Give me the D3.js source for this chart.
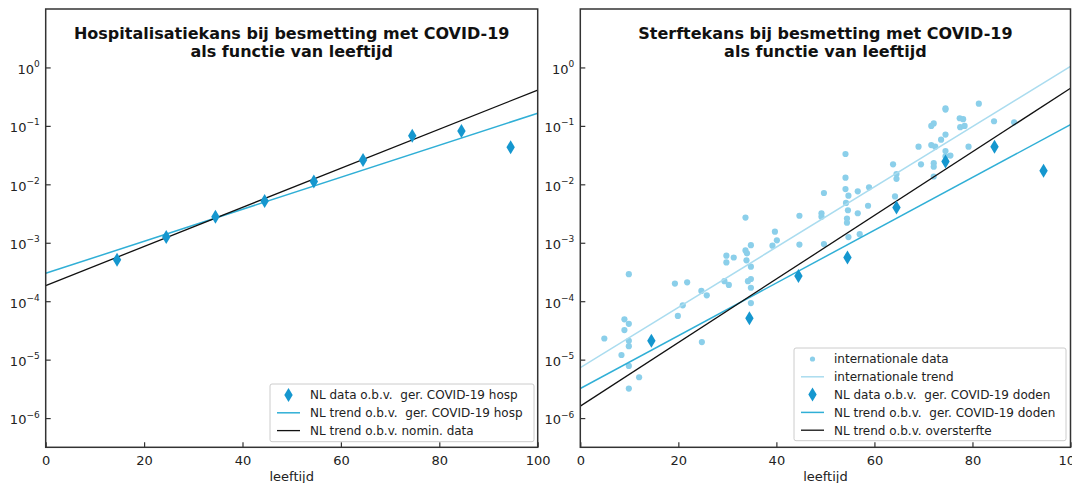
<!DOCTYPE html>
<html>
<head>
<meta charset="utf-8">
<script src="https://cdn.jsdelivr.net/npm/d3@7"></script>
<style>
  body { margin: 0; background: #fff; }
  svg { display: block; font-family: "DejaVu Sans", sans-serif; }
</style>
</head>
<body>
<svg id="chart" width="1072" height="483"></svg>
<script>
// leeftijdsgroepen (midden van de klasse)
var hospAges = [14.5, 24.5, 34.5, 44.5, 54.5, 64.5, 74.5, 84.5, 94.5];
var hospData = [5.1e-4, 1.25e-3, 2.8e-3, 5.2e-3, 1.12e-2, 2.6e-2, 6.8e-2, 8.2e-2, 4.3e-2];

var trendAges = [0, 100];
var hospTrendNL = [3.0e-4, 0.165];
var hospTrendNomin = [1.85e-4, 0.41];

var deathAges = [14.5, 34.5, 44.5, 54.5, 64.5, 74.5, 84.5, 94.5];
var deathData = [2.1e-5, 5.1e-5, 2.7e-4, 5.6e-4, 4.0e-3, 2.45e-2, 4.4e-2, 1.7e-2];
var deathTrendNL = [3.2e-6, 0.105];
var deathTrendOver = [1.6e-6, 0.44];
var intlTrend = [7.3e-6, 1.04];

// internationale data (leeftijd, sterftekans)
var intlAges = [4.9, 8.4, 9.0, 9.0, 9.9, 9.9, 9.9, 9.9, 9.9, 9.9, 12.0,
  19.3, 19.9, 20.9, 21.8, 24.7, 24.8, 25.8, 29.4, 29.8, 29.8, 30.3, 31.3,
  33.7, 33.7, 33.9, 34.0, 34.2, 34.8, 34.8, 34.8, 34.8, 34.8,
  39.2, 39.7, 40.1, 44.7, 44.7, 49.2, 49.2, 49.7, 49.7,
  54.1, 54.1, 54.1, 54.2, 54.4, 54.4, 54.6, 54.7, 54.7, 56.6, 56.6, 57.0, 58.7, 58.9,
  63.8, 64.2, 64.5, 64.5, 69.0, 69.5, 71.6, 72.1, 71.6, 72.4, 72.1, 72.1, 72.1, 73.6,
  74.5, 74.5, 74.5, 74.5, 74.5, 75.5, 77.4, 78.1, 77.5, 78.4, 79.2, 81.3, 84.4, 88.5];
var intlData = [2.3e-5, 1.2e-5, 4.9e-5, 3.2e-5, 2.9e-4, 4.1e-5, 2.1e-5, 1.7e-5, 7.8e-6, 3.2e-6, 5e-6,
  2.0e-4, 5.6e-5, 8.5e-5, 2.1e-4, 1.5e-4, 2.0e-5, 1.26e-4, 2.2e-4, 6.0e-4, 4.6e-4, 1.9e-4, 5.6e-4,
  2.7e-3, 7.4e-4, 5e-4, 6.6e-4, 2.2e-4, 9.1e-4, 3.9e-4, 2.4e-4, 1.7e-4, 9.3e-5,
  8.9e-4, 1.55e-3, 1.1e-3, 2.9e-3, 9.3e-4, 3.2e-3, 2.8e-3, 7.1e-3, 9.5e-4,
  3.3e-2, 1.3e-2, 8.3e-3, 4.8e-3, 2.6e-3, 2.2e-3, 3.6e-3, 6.4e-3, 1.25e-3, 7.6e-3, 3.2e-3, 1.4e-3, 4.3e-3, 8.9e-3,
  2.2e-2, 6.2e-3, 1.24e-2, 1.5e-2, 4.4e-2, 2.2e-2, 0.10, 0.11, 4.7e-2, 4.4e-2, 2.3e-2, 2.0e-2, 1.36e-2, 5.8e-2,
  0.19, 0.20, 7.1e-2, 3.7e-2, 3.0e-2, 3.1e-2, 0.135, 0.13, 0.095, 0.10, 4.4e-2, 0.24, 0.12, 0.115];

var xTicks = [0, 20, 40, 60, 80, 100];
var yTicks = [1e-6, 1e-5, 1e-4, 1e-3, 1e-2, 1e-1, 1e0];
var yTickExp = ["\u22126", "\u22125", "\u22124", "\u22123", "\u22122", "\u22121", "0"];

var cDiamond = "#1597cf", cNLTrend = "#30afd6", cIntlDot = "#8bcfea", cIntlTrend = "#aadcef";

var svg = d3.select("#chart");
var plotTop = 9, plotBottom = 447.3;

function diamond(){
    return "M0,-7L4.2,0L0,7L-4.2,0Z";
}

function drawPanel(left, right, title, series, legendItems, legendBox){
    var x = d3.scaleLinear().domain([0, 100]).range([left, right]);
    var y = d3.scaleLog().domain([Math.pow(10, -6.5), 10]).range([plotBottom, plotTop]);
    var g = svg.append("g");

    var line = d3.line()
        .x(function(d){ return x(d[0]); })
        .y(function(d){ return y(d[1]); });

    g.append("clipPath").attr("id", "clip" + Math.round(left))
        .append("rect").attr("x", left).attr("y", plotTop).attr("width", right - left).attr("height", plotBottom - plotTop);
    var plot = g.append("g").attr("clip-path", "url(#clip" + Math.round(left) + ")");

    series.forEach(function(s){
        if(s.type == "dots"){
            plot.selectAll(null).data(d3.zip(s.ages, s.values)).enter()
                .append("circle")
                .attr("cx", function(d){ return x(d[0]); })
                .attr("cy", function(d){ return y(d[1]); })
                .attr("r", 3.1)
                .attr("fill", s.color);
        }
        else if(s.type == "line"){
            plot.append("path").datum(d3.zip(s.ages, s.values))
                .attr("d", line)
                .attr("fill", "none")
                .attr("stroke", s.color)
                .attr("stroke-width", s.width || 1.5);
        }
        else{
            plot.selectAll(null).data(d3.zip(s.ages, s.values)).enter()
                .append("path")
                .attr("d", diamond())
                .attr("transform", function(d){ return "translate(" + x(d[0]) + "," + y(d[1]) + ")"; })
                .attr("fill", s.color);
        }
    });

    // assen
    var xAxis = d3.axisBottom(x).tickValues(xTicks).tickSize(-5).tickPadding(8);
    var gx = g.append("g").attr("transform", "translate(0," + plotBottom + ")").call(xAxis);
    var yAxis = d3.axisLeft(y).tickValues(yTicks).tickSize(-5).tickPadding(6).tickFormat("");
    var gy = g.append("g").attr("transform", "translate(" + left + ",0)").call(yAxis);
    g.selectAll(".domain").remove();
    g.selectAll(".tick line").attr("stroke", "#333").attr("stroke-width", 1.2);
    gx.selectAll(".tick text").attr("font-size", 13).attr("fill", "#222").attr("font-family", "DejaVu Sans");

    gy.selectAll(".tick text").each(function(d, i){
        var t = d3.select(this)
            .attr("font-size", 13).attr("fill", "#222").attr("font-family", "DejaVu Sans")
            .attr("x", -6).attr("dy", "0.45em");
        t.text("");
        t.append("tspan").text("10");
        t.append("tspan").attr("font-size", 9).attr("dy", "-0.75em").text(yTickExp[i]);
    });

    g.append("rect")
        .attr("x", left).attr("y", plotTop)
        .attr("width", right - left).attr("height", plotBottom - plotTop)
        .attr("fill", "none").attr("stroke", "#333").attr("stroke-width", 1.5);

    var mid = (left + right) / 2;
    g.append("text").attr("x", mid).attr("y", 39).attr("text-anchor", "middle")
        .attr("font-size", 16).attr("font-weight", "bold").attr("fill", "#111").text(title[0]);
    g.append("text").attr("x", mid).attr("y", 57).attr("text-anchor", "middle")
        .attr("font-size", 16).attr("font-weight", "bold").attr("fill", "#111").text(title[1]);

    g.append("text").attr("x", mid).attr("y", 481).attr("text-anchor", "middle")
        .attr("font-size", 13).attr("fill", "#222").text("leeftijd");

    // legenda
    var lg = g.append("g");
    lg.append("rect")
        .attr("x", legendBox[0]).attr("y", legendBox[1])
        .attr("width", legendBox[2] - legendBox[0]).attr("height", legendBox[3] - legendBox[1])
        .attr("rx", 2)
        .attr("fill", "#fff").attr("stroke", "#ccc").attr("stroke-width", 1);
    var x0 = legendBox[0];
    legendItems.forEach(function(item, i){
        var yy = legendBox[1] + 11 + i * 17.8;
        if(item.type == "dots"){
            lg.append("circle").attr("cx", x0 + 18.5).attr("cy", yy).attr("r", 2.6).attr("fill", item.color);
        }
        else if(item.type == "line"){
            lg.append("line").attr("x1", x0 + 7).attr("x2", x0 + 30).attr("y1", yy).attr("y2", yy)
                .attr("stroke", item.color).attr("stroke-width", item.width || 1.5);
        }
        else{
            lg.append("path").attr("d", diamond()).attr("transform", "translate(" + (x0 + 18.5) + "," + yy + ")")
                .attr("fill", item.color);
        }
        lg.append("text").attr("x", x0 + 40).attr("y", yy).attr("dy", "0.36em")
            .attr("font-size", 12).attr("fill", "#222")
            .style("white-space", "pre").text(item.label);
    });
}

drawPanel(45.7, 537.7,
    ["Hospitalisatiekans bij besmetting met COVID-19", "als functie van leeftijd"],
    [
        {type: "line", ages: trendAges, values: hospTrendNL, color: cNLTrend},
        {type: "line", ages: trendAges, values: hospTrendNomin, color: "#111", width: 1.3},
        {type: "diamond", ages: hospAges, values: hospData, color: cDiamond}
    ],
    [
        {type: "diamond", color: cDiamond, label: "NL data o.b.v.  ger. COVID-19 hosp"},
        {type: "line", color: cNLTrend, label: "NL trend o.b.v.  ger. COVID-19 hosp"},
        {type: "line", color: "#111", width: 1.3, label: "NL trend o.b.v. nomin. data"}
    ],
    [270, 384, 534, 441.7]);

drawPanel(580.3, 1070.5,
    ["Sterftekans bij besmetting met COVID-19", "als functie van leeftijd"],
    [
        {type: "dots", ages: intlAges, values: intlData, color: cIntlDot},
        {type: "line", ages: trendAges, values: intlTrend, color: cIntlTrend},
        {type: "line", ages: trendAges, values: deathTrendNL, color: cNLTrend},
        {type: "line", ages: trendAges, values: deathTrendOver, color: "#111", width: 1.3},
        {type: "diamond", ages: deathAges, values: deathData, color: cDiamond}
    ],
    [
        {type: "dots", color: cIntlDot, label: "internationale data"},
        {type: "line", color: cIntlTrend, label: "internationale trend"},
        {type: "diamond", color: cDiamond, label: "NL data o.b.v.  ger. COVID-19 doden"},
        {type: "line", color: cNLTrend, label: "NL trend o.b.v.  ger. COVID-19 doden"},
        {type: "line", color: "#111", width: 1.3, label: "NL trend o.b.v. oversterfte"}
    ],
    [794, 348, 1066, 440.7]);
</script>
</body>
</html>
